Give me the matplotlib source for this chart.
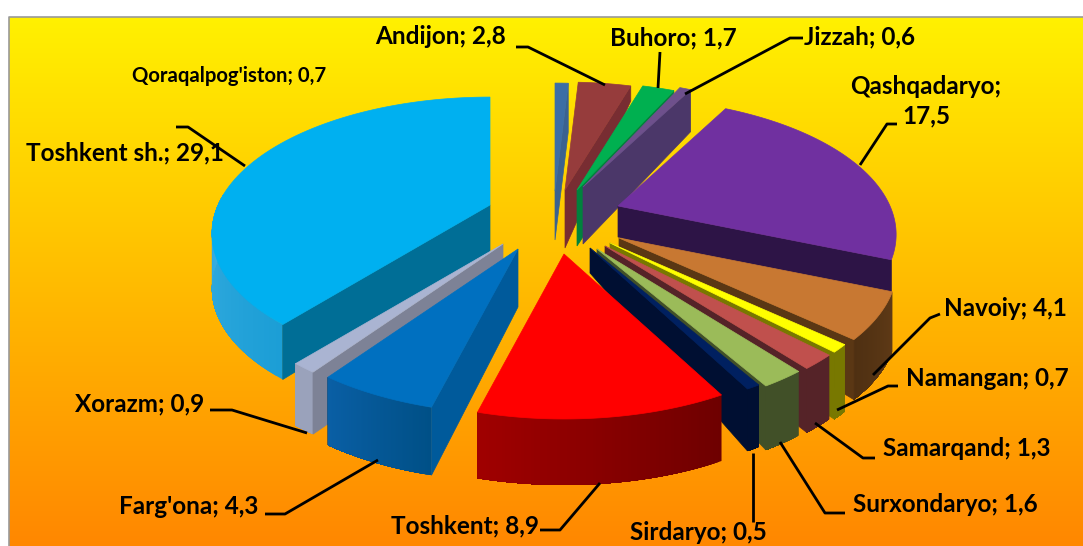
#!/usr/bin/env python3
import numpy as np
import matplotlib
matplotlib.use("Agg")
import matplotlib.pyplot as plt

plt.rcParams['font.family'] = ['Lato', 'DejaVu Sans']

# region shares, clockwise from the top
regions = ["Qoraqalpog'iston", "Andijon", "Buhoro", "Jizzah", "Qashqadaryo", "Navoiy", "Namangan",
           "Samarqand", "Surxondaryo", "Sirdaryo", "Toshkent", "Farg'ona", "Xorazm", "Toshkent sh."]
shares = [0.7, 2.8, 1.7, 0.6, 17.5, 4.1, 0.7, 1.3, 1.6, 0.5, 8.9, 4.3, 0.9, 29.1]

# slice styles: top face, cut wall, outer wall at both ends
top_colors = ['#3c6ea5', '#963c3c', '#00b050', '#6e508c', '#7030a0', '#c87832', '#ffff00',
              '#c0504d', '#9bbb59', '#002060', '#ff0000', '#0070c0', '#aab4d2', '#00b0f0']
cut_colors = ['#3a6290', '#782d32', '#00823c', '#4b3769', '#2d1446', '#5a3714', '#787800',
              '#552328', '#415028', '#000f32', '#900000', '#005a9b', '#7d8296', '#006e96']
rim_colors = [('#3a6290', '#3a6290'), ('#782d32', '#782d32'), ('#00823c', '#00823c'),
              ('#4b3769', '#4b3769'), ('#2d1446', '#2d1446'), ('#5f3a16', '#4f3012'),
              ('#787800', '#787800'), ('#552328', '#552328'), ('#415028', '#415028'),
              ('#000f32', '#000f32'), ('#6e0000', '#a00000'), ('#005087', '#0a5fa5'),
              ('#9aa2bb', '#9aa2bb'), ('#1c9ed6', '#3aafe1')]

# explosion of each slice in pixels from the pie centre
center = (555, 240)
shift_x = [0, 10, 22, 28, 63, 64, 55, 50, 42, 35, 9, -37, -52, -65]
shift_y = [-49, -50, -50, -53, -34, -2, 3, 6, 9, 8, 14, 9, 4, -35]
# depth at the apex and at the rim
depth_apex = [49, 58, 56, 57, 31, 20, 30, 30, 25, 25, 35, 58, 60, 48]
depth_rim = [49, 15, 10, 42, 43, 60, 67, 64, 64, 62, 66, 68, 62, 55]

# perspective of the pie plane
rx, ry, persp = 272, 130.5, 0.209

# text position, size, leader
label_pos = [(229, 76), (441, 37), (673, 38), (860, 37), (926, 101), (1005, 309), (987, 378),
             (967, 449), (945, 505), (698, 533), (465, 526), (189, 507), (140, 404), (125, 153)]
label_size = [14.6, 17.5, 17.5, 17.5, 17.5, 17.5, 17.5, 17.5, 17.5, 17.5, 17.5, 17.5, 17.5, 17.5]
leaders = [None,
           [(516, 47), (528, 47), (605, 85)],
           [(660, 52), (658, 88)],
           [(803, 38), (790, 38), (685, 94)],
           [(897, 124), (887, 124), (860, 165)],
           [(940, 314), (930, 318), (873, 375)],
           [(898, 386), (888, 386), (837, 410)],
           [(875, 458), (863, 458), (815, 423)],
           [(845, 513), (825, 513), (780, 442)],
           [(753, 522), (753, 453)],
           [(540, 530), (560, 530), (600, 483)],
           [(265, 514), (285, 514), (378, 460)],
           [(210, 410), (232, 410), (307, 433)],
           [(176, 127), (188, 127), (245, 166)]]


def project(theta):
    # rim point relative to the slice apex, theta clockwise from the top
    u, v = np.sin(theta), np.cos(theta)
    w = 1 + persp * v
    return rx * u / w, -ry * v / w


def hex_mix(c1, c2, t):
    a = np.array(matplotlib.colors.to_rgb(c1))
    b = np.array(matplotlib.colors.to_rgb(c2))
    return tuple(a + (b - a) * t)


fig = plt.figure(figsize=(10.83, 5.46), dpi=100, facecolor='white')
ax = fig.add_axes([0, 0, 1, 1])
ax.set_xlim(0, 1083)
ax.set_ylim(546, 0)
ax.axis('off')

# background gradient
grad = np.zeros((256, 1, 3))
grad[:, 0, 0] = 1.0
grad[:, 0, 1] = np.linspace(0.945, 0.53, 256)
ax.imshow(grad, extent=(9, 1083, 546, 17), aspect='auto', zorder=0)
ax.set_xlim(0, 1083)
ax.set_ylim(546, 0)
ax.plot([8.5, 8.5, 1083], [546, 16.5, 16.5], color='#999999', lw=1.2, zorder=1)

fracs = np.array(shares) / np.sum(shares) * 2 * np.pi
ends = np.cumsum(fracs)
starts = ends - fracs
mids = (starts + ends) / 2

# back to front
order = np.argsort(-np.cos(mids))
z = 2
for i in order:
    t1, t2 = starts[i], ends[i]
    ax_, ay_ = center[0] + shift_x[i], center[1] + shift_y[i]
    th = np.linspace(t1, t2, 80)
    px, py = project(th)
    px = px + ax_
    py = py + ay_
    ha, hr = depth_apex[i], depth_rim[i]

    # outer wall, each band painted over the rest of the arc so no seams show
    if mids[i] > np.pi / 2:
        idx = np.where(np.cos(th) < 0.1)[0]
        for n, k in enumerate(idx[:-1]):
            col = hex_mix(rim_colors[i][0], rim_colors[i][1], n / max(1, len(idx) - 2))
            xs = px[idx[n]:idx[-1] + 1]
            ys = py[idx[n]:idx[-1] + 1]
            ax.fill(np.r_[xs, xs[::-1]], np.r_[ys, ys[::-1] + hr], color=col, lw=0, zorder=z)
        z += 1

    # cut wall on the side that looks at the viewer
    if t2 < np.pi:
        ax.fill([ax_, px[-1], px[-1], ax_], [ay_, py[-1], py[-1] + hr, ay_ + ha],
                color=cut_colors[i], lw=0.5, zorder=z)
    elif t1 > np.pi:
        ax.fill([ax_, px[0], px[0], ax_], [ay_, py[0], py[0] + hr, ay_ + ha],
                color=cut_colors[i], lw=0.5, zorder=z)
    z += 1

    # top face
    ax.fill(np.r_[ax_, px], np.r_[ay_, py], color=top_colors[i], lw=0.5, zorder=z)
    z += 1

# labels and leader lines
for i, name in enumerate(regions):
    val = str(shares[i]).replace('.', ',')
    if name == 'Qashqadaryo':
        txt = f"{name};\n{val}"
    else:
        txt = f"{name}; {val}"
    if leaders[i] is not None:
        xs, ys = zip(*leaders[i])
        ax.plot(xs, ys, color='black', lw=2, zorder=z, solid_capstyle='butt')
    ax.text(label_pos[i][0], label_pos[i][1], txt, fontsize=label_size[i], fontweight='bold',
            ha='center', va='center', color='black', zorder=z + 1, linespacing=1.35)

fig.savefig('out.png', dpi=100)
